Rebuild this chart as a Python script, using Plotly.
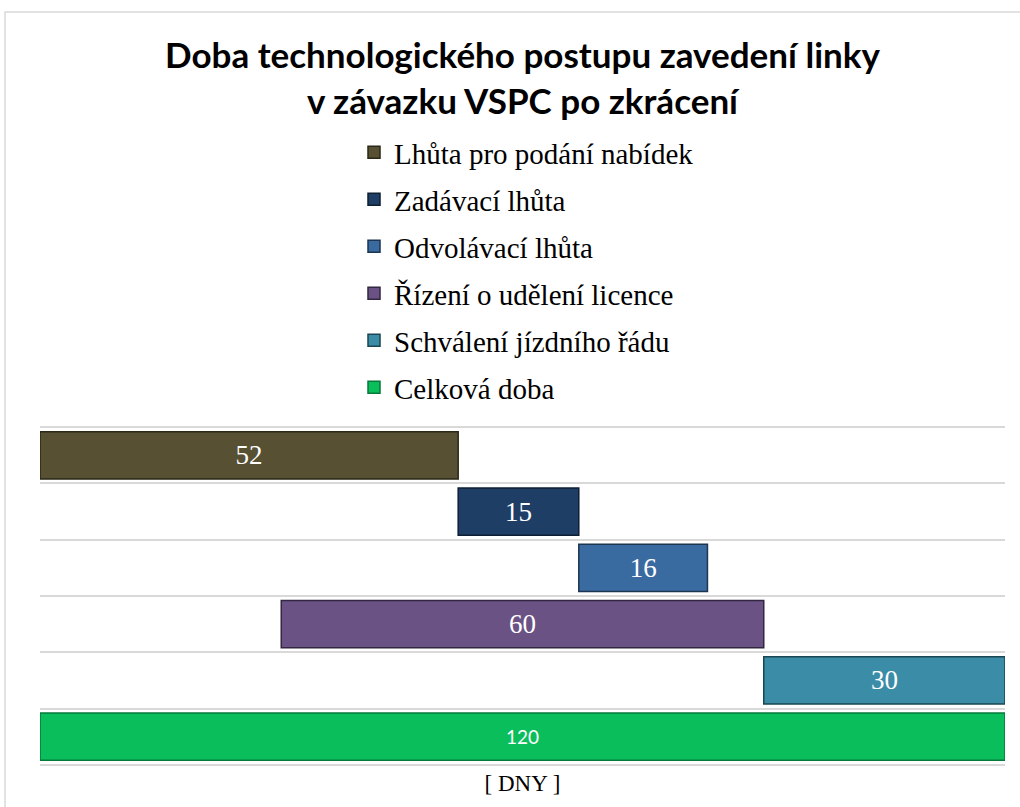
import plotly.graph_objects as go

categories = ["Lhůta pro podání nabídek", "Zadávací lhůta", "Odvolávací lhůta",
              "Řízení o udělení licence", "Schválení jízdního řádu", "Celková doba"]
starts = [0, 52, 67, 30, 90, 0]
durations = [52, 15, 16, 60, 30, 120]
colors = ["#575033", "#1F3E66", "#3A6BA0", "#6A5285", "#3A8CA7", "#0BBE5C"]
edges = ["#2A2716", "#0E1E33", "#1C3550", "#332640", "#1B4552", "#067A3A"]

W, H = 1020, 807
ml, mr, mt, mb = 40, 15, 426, 41
pw = W - ml - mr
ph = H - mt - mb

fig = go.Figure()
for i, (cat, s, d) in enumerate(zip(categories, starts, durations)):
    last = i == len(categories) - 1
    fig.add_trace(go.Bar(
        y=[i], x=[d], base=[s], orientation="h", name=cat,
        legendgroup=f"g{i}",
        width=0.84,
        marker=dict(color=colors[i], line=dict(color=edges[i], width=1.5)),
        text=[str(d)], textposition="inside", insidetextanchor="middle",
        textfont=dict(color="white",
                      family="Lato" if last else "Liberation Serif",
                      size=19 if last else 27),
        hoverinfo="skip",
    ))

fig.update_layout(
    width=W, height=H,
    margin=dict(l=ml, r=mr, t=mt, b=mb),
    paper_bgcolor="white", plot_bgcolor="white",
    showlegend=True,
    barmode="overlay",
    title=dict(
        text="<b>Doba technologického postupu zavedení linky<br>v závazku VSPC po zkrácení</b>",
        font=dict(family="Lato", size=35, color="black"),
        x=0.5, xref="paper", xanchor="center",
        y=1 - 68 / H, yref="container", yanchor="top",
    ),
    legend=dict(
        x=(354 - ml) / pw, xanchor="left",
        y=(H - mb - 127) / ph, yanchor="top",
        font=dict(family="Liberation Serif", size=29, color="black"),
        tracegroupgap=6.3,
        bgcolor="rgba(0,0,0,0)",
    ),
    xaxis=dict(
        range=[0, 120], showgrid=False, zeroline=False, showticklabels=False,
        ticks="", showline=False,
        title=dict(text="[ DNY ]", font=dict(family="Liberation Serif", size=23, color="black"),
                   standoff=8),
    ),
    yaxis=dict(
        range=[5.52, -0.52], tickvals=[-0.5, 0.5, 1.5, 2.5, 3.5, 4.5, 5.5],
        showticklabels=False, showgrid=True, gridcolor="#D9D9D9", gridwidth=2,
        zeroline=False, ticks="", showline=False,
    ),
    shapes=[dict(type="rect", xref="paper", yref="paper",
                 x0=(5 - ml) / pw, x1=(1030 - ml) / pw,
                 y0=(H - mb - 815) / ph, y1=(H - mb - 12) / ph,
                 line=dict(color="#D9D9D9", width=1.5), fillcolor="rgba(0,0,0,0)",
                 layer="below")],
)

fig.write_html("out.html")
